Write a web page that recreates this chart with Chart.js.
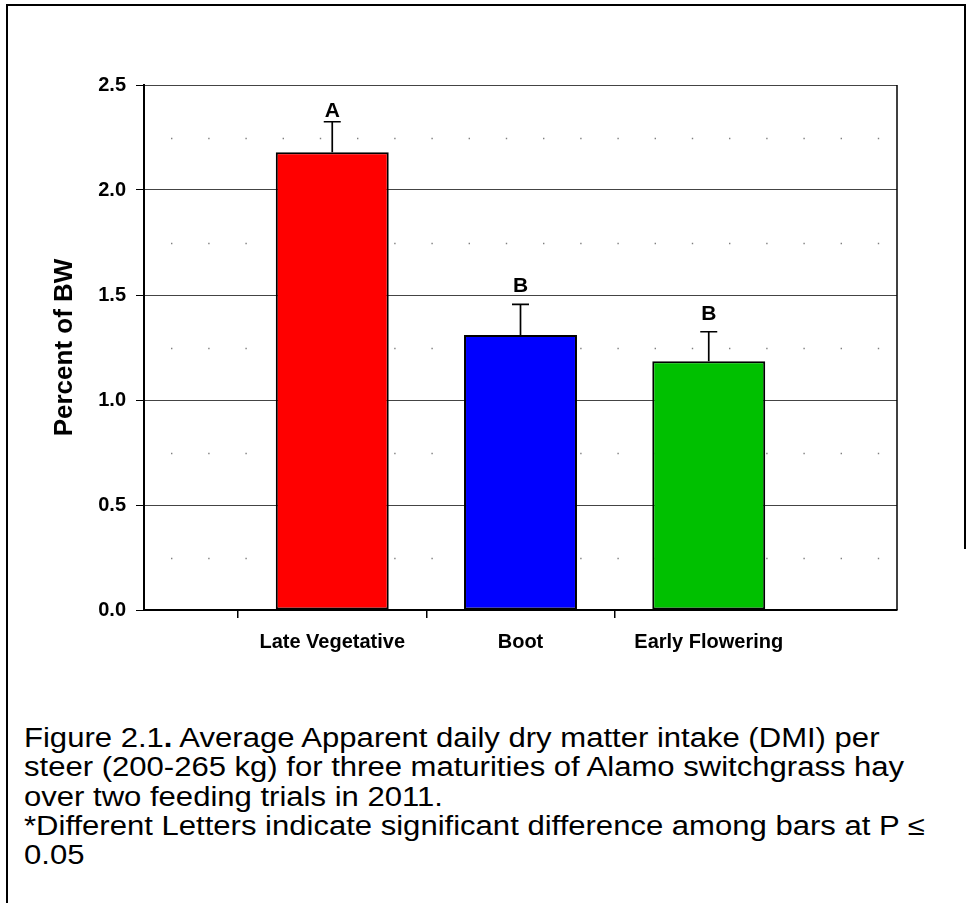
<!DOCTYPE html>
<html><head><meta charset="utf-8">
<script src="https://cdn.jsdelivr.net/npm/chart.js@4/dist/chart.umd.min.js"></script>
<style>
html,body{margin:0;padding:0;background:#fff;}
body{width:971px;height:903px;position:relative;overflow:hidden;font-family:'Liberation Sans',Arial,sans-serif;}
#wrap{position:absolute;left:0;top:0;width:971px;height:680px;}
#frameTop{position:absolute;left:6px;top:4px;width:960px;height:2px;background:#000;}
#frameLeft{position:absolute;left:6px;top:4px;width:2px;height:899px;background:#000;}
#frameRight{position:absolute;left:964px;top:4px;width:2px;height:545px;background:#000;}
#caption{position:absolute;left:24px;top:724px;font-size:27px;line-height:29.3px;color:#000;white-space:nowrap;transform:scaleX(1.15);transform-origin:0 0;}
</style>
</head><body>
<div id="frameTop"></div><div id="frameLeft"></div><div id="frameRight"></div>
<div id="wrap"><canvas id="c" width="971" height="680"></canvas></div>
<div id="caption">Figure 2.1<b>.</b> Average Apparent daily dry matter intake (DMI) per<br>steer (200-265 kg) for three maturities of Alamo switchgrass hay<br>over two feeding trials in 2011.<br>*Different Letters indicate significant difference among bars at P ≤<br>0.05</div>
<script>
const categories = ['Late Vegetative', 'Boot', 'Early Flowering'];
const meanValues = [2.18, 1.31, 1.185];
const stdError = [0.145, 0.145, 0.14];
const letters = ['A', 'B', 'B'];
const letterHeights = [2.35, 1.515, 1.38];
const yMin = 0, yMax = 2.5, yStep = 0.5;

const FONT = "'Liberation Sans', Arial, sans-serif";
const xLabels = ['', ...categories, ''];
const barData = [null, ...meanValues, null];

const decor = {
  id: 'decor',
  beforeDatasetsDraw(chart) {
    const {ctx, chartArea: a, scales: {y}} = chart;
    ctx.save();
    // minor dotted gridlines
    ctx.strokeStyle = '#808080';
    ctx.lineWidth = 1.4;
    ctx.setLineDash([1.4, 35.8]);
    for (let v = yMin + yStep / 2; v < yMax; v += yStep) {
      const py = Math.round(y.getPixelForValue(v)) + 0.5;
      ctx.beginPath();
      ctx.moveTo(a.left + 27, py);
      ctx.lineTo(a.right, py);
      ctx.stroke();
    }
    ctx.setLineDash([]);
    // right frame of plot
    ctx.strokeStyle = '#000';
    ctx.lineWidth = 1.5;
    ctx.beginPath();
    ctx.moveTo(a.right, a.top);
    ctx.lineTo(a.right, a.bottom);
    ctx.stroke();
    ctx.restore();
  },
  afterDatasetsDraw(chart) {
    const {ctx, scales: {y}} = chart;
    const meta = chart.getDatasetMeta(0);
    ctx.save();
    ctx.strokeStyle = '#000';
    ctx.fillStyle = '#000';
    ctx.lineWidth = 1.7;
    meta.data.forEach((bar, i) => {
      const k = i - 1;
      if (k < 0 || k >= meanValues.length) return;
      const top = y.getPixelForValue(meanValues[k] + stdError[k]);
      const base = y.getPixelForValue(meanValues[k]);
      ctx.beginPath();
      ctx.moveTo(bar.x, base);
      ctx.lineTo(bar.x, top);
      ctx.moveTo(bar.x - 8.5, top);
      ctx.lineTo(bar.x + 8.5, top);
      ctx.stroke();
      ctx.font = "bold 21px " + FONT;
      ctx.textAlign = 'center';
      ctx.textBaseline = 'alphabetic';
      ctx.fillText(letters[k], bar.x, y.getPixelForValue(letterHeights[k]));
    });
    ctx.restore();
  }
};

new Chart(document.getElementById('c'), {
  type: 'bar',
  data: {
    labels: xLabels,
    datasets: [{
      data: barData,
      backgroundColor: [null, '#ff0000', '#0000ff', '#00c000', null],
      borderColor: '#000',
      borderWidth: 2,
      borderSkipped: false,
      barPercentage: 0.6,
      categoryPercentage: 1.0
    }]
  },
  options: {
    responsive: false,
    animation: false,
    layout: {padding: {left: 0, top: 85, right: 74, bottom: 0}},
    plugins: {legend: {display: false}, tooltip: {enabled: false}},
    scales: {
      x: {
        offset: false,
        grid: {
          drawOnChartArea: false,
          tickLength: 8,
          lineWidth: 1.5,
          color: (c) => (c.index >= 1 && c.index <= categories.length) ? '#000' : 'rgba(0,0,0,0)'
        },
        border: {color: '#000', width: 2},
        ticks: {
          color: '#000',
          font: {family: FONT, size: 20, weight: 'bold'},
          padding: 12,
          maxRotation: 0,
          autoSkip: false
        },
        afterFit: (s) => { s.height = 70; }
      },
      y: {
        min: yMin, max: yMax,
        grid: {color: '#444', lineWidth: 1, tickLength: 8, tickColor: '#000'},
        border: {color: '#000', width: 2},
        ticks: {
          stepSize: yStep,
          color: '#000',
          font: {family: FONT, size: 20, weight: 'bold'},
          padding: 10,
          callback: (v) => Number(v).toFixed(1)
        },
        title: {
          display: true,
          text: 'Percent of BW',
          color: '#000',
          font: {family: FONT, size: 26, weight: 'bold'},
          padding: {top: 49, bottom: 0}
        },
        afterFit: (s) => { s.width = 144; }
      }
    }
  },
  plugins: [decor]
});
</script>
</body></html>
